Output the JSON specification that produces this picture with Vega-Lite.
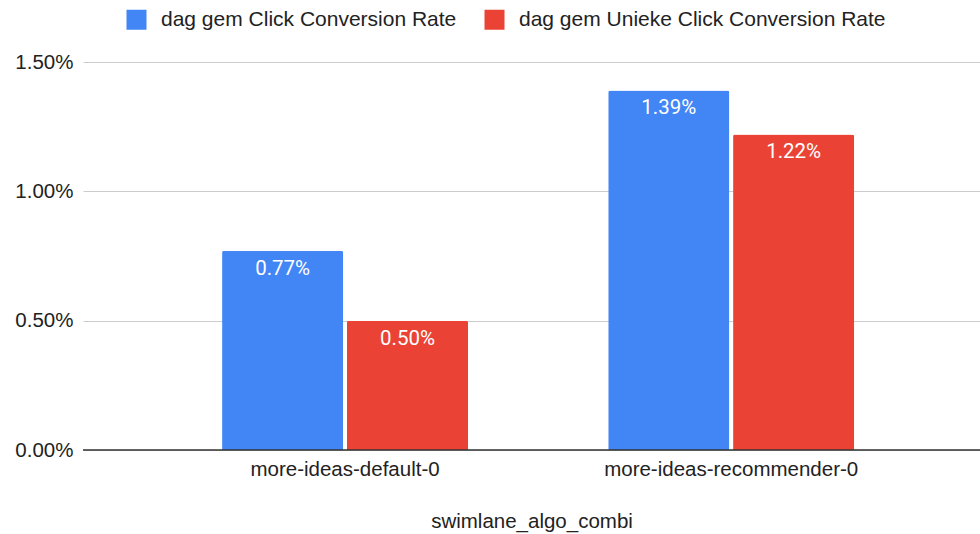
{
  "$schema": "https://vega.github.io/schema/vega-lite/v6.json",
  "width": 897,
  "height": 388,
  "autosize": {"type": "none"},
  "padding": {"left": 83, "top": 62, "right": 0, "bottom": 84},
  "background": "white",
  "config": {
    "view": {"stroke": null},
    "font": "Liberation Sans"
  },
  "data": {
    "values": [
      {"swimlane_algo_combi": "more-ideas-default-0", "series": "dag gem Click Conversion Rate", "rate": 0.0077},
      {"swimlane_algo_combi": "more-ideas-default-0", "series": "dag gem Unieke Click Conversion Rate", "rate": 0.0050},
      {"swimlane_algo_combi": "more-ideas-recommender-0", "series": "dag gem Click Conversion Rate", "rate": 0.0139},
      {"swimlane_algo_combi": "more-ideas-recommender-0", "series": "dag gem Unieke Click Conversion Rate", "rate": 0.0122}
    ]
  },
  "encoding": {
    "x": {
      "field": "swimlane_algo_combi",
      "type": "nominal",
      "sort": null,
      "scale": {"paddingInner": 0.363, "paddingOuter": 0.343, "align": 0.525},
      "axis": {
        "labelAngle": 0,
        "labelFontSize": 20.5,
        "labelColor": "#222222",
        "labelPadding": 9,
        "labelLimit": 400,
        "ticks": false,
        "domain": false,
        "title": "swimlane_algo_combi",
        "titleFontSize": 20.5,
        "titleFontWeight": "normal",
        "titleColor": "#222222",
        "titlePadding": 32
      }
    },
    "xOffset": {
      "field": "series",
      "type": "nominal",
      "scale": {"paddingInner": 0.03, "paddingOuter": 0}
    },
    "y": {
      "field": "rate",
      "type": "quantitative",
      "scale": {"domain": [0, 0.015]},
      "axis": {
        "values": [0, 0.005, 0.01, 0.015],
        "format": ".2%",
        "title": null,
        "labelFontSize": 20.5,
        "labelColor": "#222222",
        "labelPadding": 10,
        "ticks": false,
        "domain": false,
        "gridColor": "#cccccc",
        "gridWidth": 1.2
      }
    }
  },
  "layer": [
    {
      "mark": {"type": "bar", "cornerRadiusTopLeft": 2, "cornerRadiusTopRight": 2},
      "encoding": {
        "color": {
          "field": "series",
          "type": "nominal",
          "scale": {"range": ["#4285F4", "#EA4335"]},
          "legend": {
            "orient": "none",
            "legendX": 43,
            "legendY": -53,
            "direction": "horizontal",
            "title": null,
            "symbolType": "square",
            "symbolSize": 400,
            "symbolStrokeWidth": 0,
            "labelFontSize": 21,
            "labelColor": "#222222",
            "labelOffset": 14,
            "columnPadding": 27,
            "labelLimit": 500
          }
        }
      }
    },
    {
      "mark": {"type": "text", "baseline": "top", "dy": 8, "color": "white", "fontSize": 20.5, "font": "Roboto"},
      "encoding": {
        "text": {"field": "rate", "type": "quantitative", "format": ".2%"}
      }
    },
    {
      "data": {"values": [{"rate": 0}]},
      "mark": {"type": "rule", "color": "#333333", "strokeWidth": 1.3},
      "encoding": {
        "y": {"field": "rate", "type": "quantitative"},
        "x": null,
        "xOffset": null
      }
    }
  ]
}
